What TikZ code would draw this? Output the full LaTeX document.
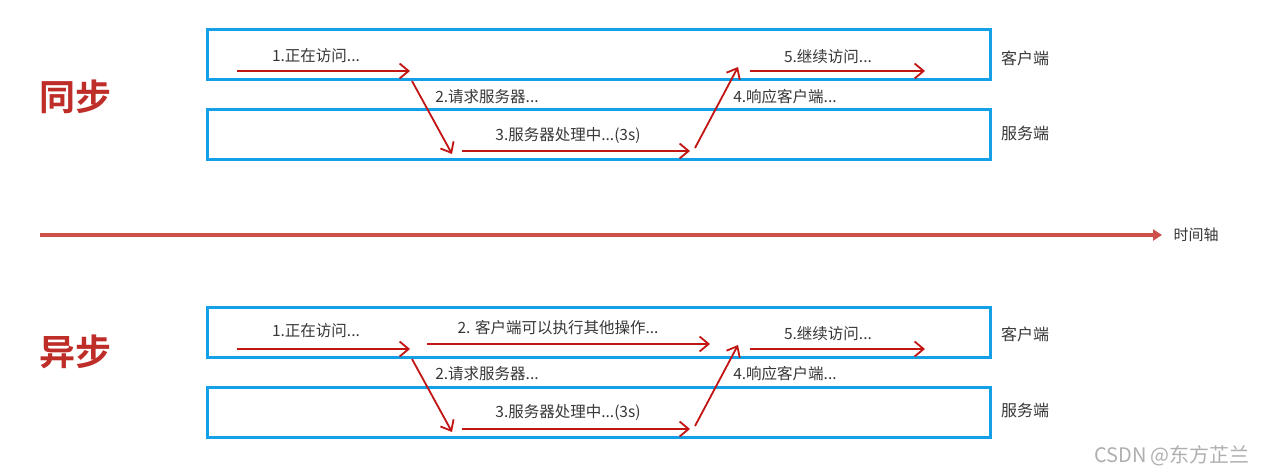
\documentclass[tikz,border=0pt]{standalone}
\usepackage{fontspec}
\newfontfamily\cjk{Noto Sans CJK SC}
\newfontfamily\cjkb{Noto Sans CJK SC Bold}
\usetikzlibrary{arrows.meta}
\definecolor{boxblue}{RGB}{20,160,230}
\definecolor{darkred}{RGB}{195,20,20}
\definecolor{axisred}{RGB}{205,80,75}
\definecolor{titlered}{RGB}{190,45,40}
\definecolor{txtgray}{RGB}{55,55,55}
\definecolor{wmgray}{RGB}{175,175,175}
\tikzset{
  box/.style={draw=boxblue, line width=3pt, minimum width=783pt, minimum height=50pt, inner sep=0pt},
  flow/.style={draw=darkred, line width=1.8pt, -{Straight Barb[length=9pt,width=15pt]}},
  lbl/.style={font=\cjk\fontsize{15.5}{17}\selectfont, text=txtgray, inner sep=0pt},
  side/.style={font=\cjk\fontsize{16}{18}\selectfont, text=txtgray, inner sep=0pt},
  title/.style={font=\cjkb\fontsize{36}{40}\selectfont, text=titlered, inner sep=0pt},
  axis/.style={draw=axisred, line width=4pt, -{Triangle[length=9pt,width=11pt]}}
}
\begin{document}
\begin{tikzpicture}[x=1pt,y=-1pt]
\useasboundingbox (0,0) rectangle (1270,476);
\fill[white] (0,0) rectangle (1270,476);

% ---------- synchronous ----------
\node[title] (tsync) at (75,97) {同步};
\node[box] (c1) at (598.5,55) {};
\node[box] (s1) at (598.5,135) {};
\node[side] (c1l) at (1025,58) {客户端};
\node[side] (s1l) at (1025,133) {服务端};

\coordinate (a1s) at (237,71);  \coordinate (a1e) at (410,71);
\coordinate (a2s) at (412,81);  \coordinate (a2e) at (452,154);
\coordinate (a3s) at (462,151); \coordinate (a3e) at (690,151);
\coordinate (a4s) at (695,148); \coordinate (a4e) at (738,67);
\coordinate (a5s) at (750,71);  \coordinate (a5e) at (925,71);
\draw[flow] (a1s) -- (a1e);
\draw[flow] (a2s) -- (a2e);
\draw[flow] (a3s) -- (a3e);
\draw[flow] (a4s) -- (a4e);
\draw[flow] (a5s) -- (a5e);
\node[lbl] (l1) at (316,56) {1.正在访问...};
\node[lbl] (l2) at (487,97) {2.请求服务器...};
\node[lbl] (l3) at (568,136) {3.服务器处理中...(3s)};
\node[lbl] (l4) at (785,97) {4.响应客户端...};
\node[lbl] (l5) at (828,57) {5.继续访问...};

% ---------- time axis ----------
\coordinate (ts) at (40,235);
\coordinate (te) at (1162,235);
\draw[axis] (ts) -- (te);
\node[font=\cjk\fontsize{15}{17}\selectfont, text=txtgray, inner sep=0pt] (tl) at (1196,235) {时间轴};

% ---------- asynchronous ----------
\node[title] (tasync) at (75,352) {异步};
\node[box] (c2) at (598.5,332.5) {};
\node[box] (s2) at (598.5,412) {};
\node[side] (c2l) at (1025,334) {客户端};
\node[side] (s2l) at (1025,410) {服务端};

\coordinate (b1s) at (237,349); \coordinate (b1e) at (410,349);
\coordinate (bxs) at (427,344); \coordinate (bxe) at (710,344);
\coordinate (b2s) at (412,359); \coordinate (b2e) at (452,432);
\coordinate (b3s) at (462,429); \coordinate (b3e) at (690,429);
\coordinate (b4s) at (695,426); \coordinate (b4e) at (738,345);
\coordinate (b5s) at (750,349); \coordinate (b5e) at (925,349);
\draw[flow] (b1s) -- (b1e);
\draw[flow] (bxs) -- (bxe);
\draw[flow] (b2s) -- (b2e);
\draw[flow] (b3s) -- (b3e);
\draw[flow] (b4s) -- (b4e);
\draw[flow] (b5s) -- (b5e);
\node[lbl] (m1) at (316,331) {1.正在访问...};
\node[lbl] (mx) at (558,328) {2. 客户端可以执行其他操作...};
\node[lbl] (m2) at (487,374) {2.请求服务器...};
\node[lbl] (m3) at (568,412) {3.服务器处理中...(3s)};
\node[lbl] (m4) at (785,374) {4.响应客户端...};
\node[lbl] (m5) at (828,334) {5.继续访问...};

% watermark
\node[font=\cjk\fontsize{20}{22}\selectfont, text=wmgray, inner sep=0pt] (wm) at (1172,456) {CSDN @东方芷兰};
\end{tikzpicture}
\end{document}
